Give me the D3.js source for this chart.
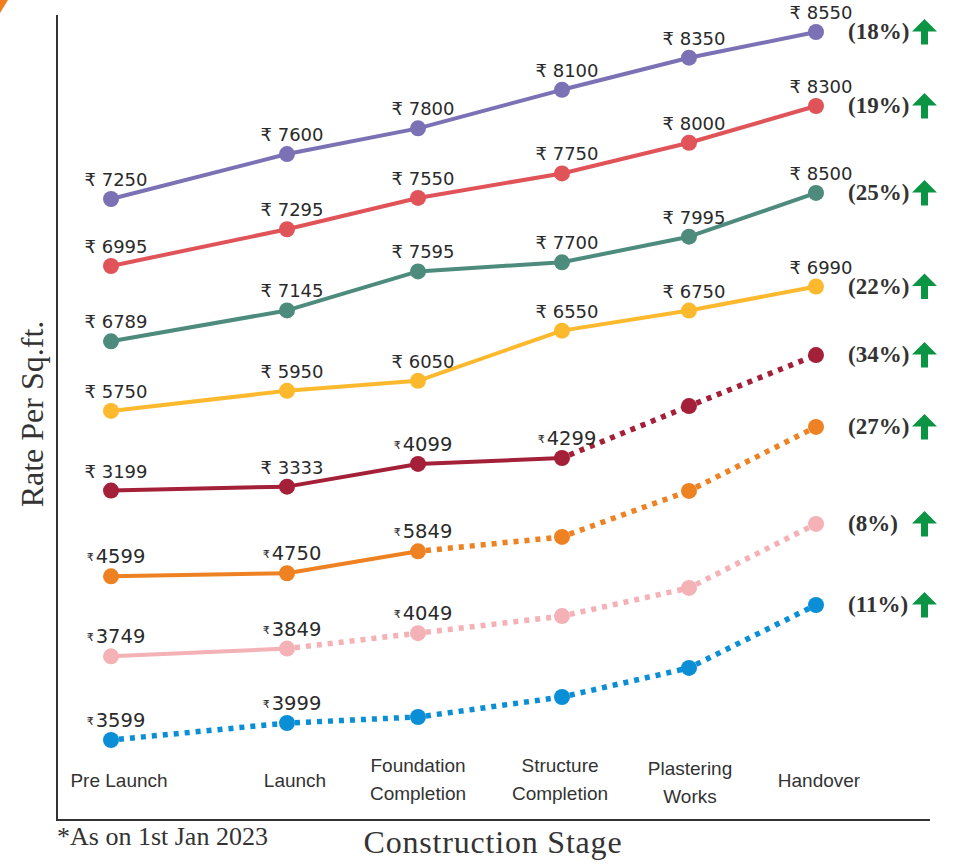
<!DOCTYPE html>
<html>
<head>
<meta charset="utf-8">
<script src="https://cdn.jsdelivr.net/npm/d3@7"></script>
<style>
  html, body { margin: 0; padding: 0; background: #fff; }
  svg { display: block; }
</style>
</head>
<body>
<svg id="chart" width="953" height="865"></svg>
<script>
// ---------------- DATA ----------------
const stages = ["Pre Launch", "Launch", "Foundation\nCompletion", "Structure\nCompletion", "Plastering\nWorks", "Handover"];

const series1 = [7250, 7600, 7800, 8100, 8350, 8550];
const series2 = [6995, 7295, 7550, 7750, 8000, 8300];
const series3 = [6789, 7145, 7595, 7700, 7995, 8500];
const series4 = [5750, 5950, 6050, 6550, 6750, 6990];
const series5 = [3199, 3333, 4099, 4299, 6050, 7770];
const series6 = [4599, 4750, 5849, 6570, 8870, 12070];
const series7 = [3749, 3849, 4049, 4270, 4635, 5465];
const series8 = [3599, 3999, 4140, 4610, 5295, 6775];

// number of points with a printed price (the rest are projections)
const labeledCount = [6, 6, 6, 6, 4, 3, 3, 2];
// number of leading segments drawn solid (rest dotted)
const solidSegments = [5, 5, 5, 5, 3, 2, 1, 0];
// growth percentages shown at the right
const growthPct = [18, 19, 25, 22, 34, 27, 8, 11];

const footnote = "*As on 1st Jan 2023";
const yTitle = "Rate Per Sq.ft.";
const xTitle = "Construction Stage";

// ---------------- LAYOUT / STYLE ----------------
const allSeries = [series1, series2, series3, series4, series5, series6, series7, series8];
const colors = ["#7b71b5", "#e05358", "#4d8b7d", "#fcb92e", "#a41f38", "#ee8222", "#f4b1b6", "#0a8fd6"];
// vertical band (pixel range) each series' own value scale maps into
const bands = [[199, 32], [266, 106], [341.3, 192.9], [410.9, 286.5], [490.6, 355.1], [576.3, 426.9], [656.3, 523.9], [740, 605]];
const smallSymbolFrom = [99, 99, 99, 99, 2, 0, 0, 0];
const catLabelShift = [8, 8, 0, -2, 1, 3];

const svg = d3.select("#chart");

const x = d3.scaleOrdinal()
  .domain(stages)
  .range([111, 287, 418, 562, 689, 816]);

const yScales = allSeries.map((vals, i) =>
  d3.scaleLinear().domain([vals[0], vals[vals.length - 1]]).range(bands[i]));

// decorative corner
svg.append("polygon").attr("points", "0,0 8,0 0,13").attr("fill", "#f07d1e");

// axes lines
const axisColor = "#333";
svg.append("line").attr("x1", 57).attr("x2", 57).attr("y1", 15).attr("y2", 821)
  .attr("stroke", axisColor).attr("stroke-width", 2);
svg.append("line").attr("x1", 56).attr("x2", 930).attr("y1", 820).attr("y2", 820)
  .attr("stroke", axisColor).attr("stroke-width", 2);

// category labels
const catG = svg.append("g")
  .attr("font-family", "'Liberation Sans', Arial, sans-serif")
  .attr("font-size", 19).attr("fill", "#333").attr("text-anchor", "middle");
stages.forEach((s, si) => {
  const lines = s.split("\n");
  const cx = x(s) + catLabelShift[si];
  const t = catG.append("text").attr("x", cx);
  if (lines.length === 1) {
    t.attr("y", 787).text(lines[0]);
  } else {
    const off = s.startsWith("Plastering") ? 3 : 0;
    lines.forEach((ln, k) => {
      t.append("tspan").attr("x", cx).attr("y", 772 + off + k * 28).text(ln);
    });
  }
});

// lines
const linesG = svg.append("g");
allSeries.forEach((vals, si) => {
  const y = yScales[si];
  for (let i = 0; i < vals.length - 1; i++) {
    const solid = i < solidSegments[si];
    linesG.append("line")
      .attr("x1", x(stages[i])).attr("y1", y(vals[i]))
      .attr("x2", x(stages[i + 1])).attr("y2", y(vals[i + 1]))
      .attr("stroke", colors[si])
      .attr("stroke-width", solid ? 4 : 5.5)
      .attr("stroke-dasharray", solid ? null : "5,6")
      .attr("stroke-dashoffset", solid ? null : -8);
  }
});

// points
const ptsG = svg.append("g");
allSeries.forEach((vals, si) => {
  ptsG.selectAll(null).data(vals).enter().append("circle")
    .attr("cx", (d, i) => x(stages[i]))
    .attr("cy", d => yScales[si](d))
    .attr("r", 8)
    .attr("fill", colors[si]);
});

// value labels
const lblG = svg.append("g")
  .attr("font-family", "'DejaVu Sans', sans-serif")
  .attr("fill", "#2a2a2a").attr("text-anchor", "middle");
allSeries.forEach((vals, si) => {
  vals.forEach((v, i) => {
    if (i >= labeledCount[si]) return;
    const px = x(stages[i]) + 5;
    const py = yScales[si](v) - 13;
    const t = lblG.append("text").attr("x", px).attr("y", py);
    if (i >= smallSymbolFrom[si]) {
      t.attr("font-size", 19.5);
      t.append("tspan").attr("font-size", 11).attr("dy", -2).text("\u20B9");
      t.append("tspan").attr("dx", 2).attr("dy", 2).text(String(v));
    } else {
      t.attr("font-size", 18).text("\u20B9 " + v);
    }
  });
});

// growth percentages + arrows
const pctG = svg.append("g");
allSeries.forEach((vals, si) => {
  const yy = yScales[si](vals[vals.length - 1]);
  pctG.append("text")
    .attr("x", 848).attr("y", yy + 7)
    .attr("font-family", "'Liberation Serif', 'Times New Roman', serif")
    .attr("font-weight", "bold").attr("font-size", 23).attr("fill", "#333")
    .text("(" + growthPct[si] + "%)");
  const cx = 924.5;
  const pts = [
    [cx, yy - 13], [cx + 12.5, yy - 0.5], [cx + 3.5, yy - 0.5], [cx + 3.5, yy + 12.5],
    [cx - 3.5, yy + 12.5], [cx - 3.5, yy - 0.5], [cx - 12.5, yy - 0.5]
  ];
  pctG.append("polygon").attr("points", pts.map(p => p.join(",")).join(" ")).attr("fill", "#0b9444");
});

// titles
svg.append("text")
  .attr("transform", "translate(43,414) rotate(-90)")
  .attr("text-anchor", "middle")
  .attr("font-family", "'Liberation Serif', 'Times New Roman', serif")
  .attr("font-size", 32).attr("fill", "#333")
  .text(yTitle);

svg.append("text")
  .attr("x", 493).attr("y", 853)
  .attr("text-anchor", "middle")
  .attr("font-family", "'Liberation Serif', 'Times New Roman', serif")
  .attr("font-size", 32).attr("fill", "#333")
  .attr("letter-spacing", 0.8)
  .text(xTitle);

svg.append("text")
  .attr("x", 57).attr("y", 845)
  .attr("font-family", "'Liberation Serif', 'Times New Roman', serif")
  .attr("font-size", 26).attr("fill", "#333")
  .text(footnote);
</script>
</body>
</html>
